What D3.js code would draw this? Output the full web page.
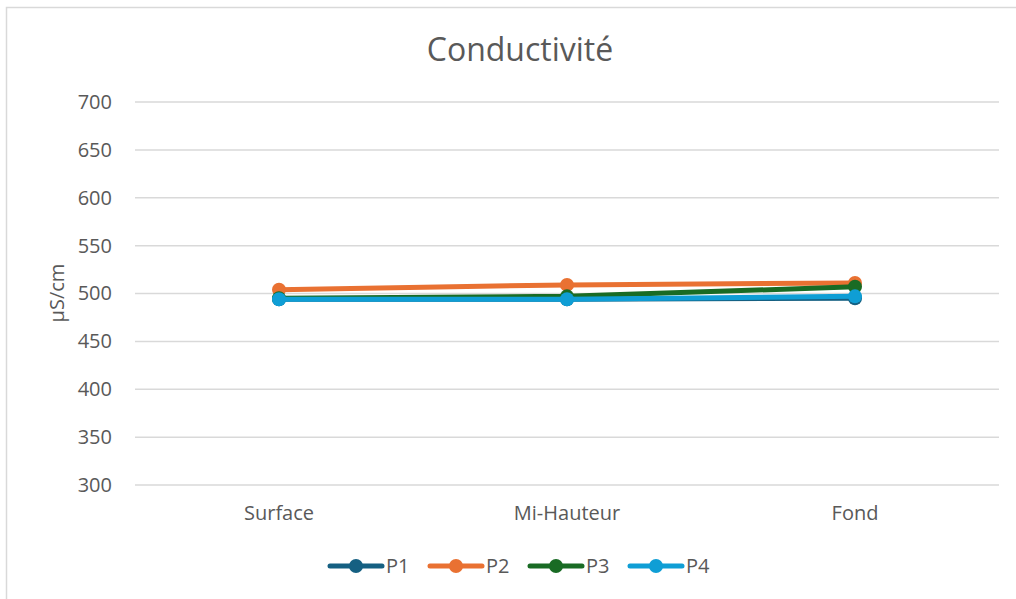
<!DOCTYPE html>
<html><head><meta charset="utf-8">
<script src="https://cdn.jsdelivr.net/npm/d3@7"></script>
<style>body{margin:0;background:#fff}svg{display:block}text{font-family:"Open Sans",sans-serif;fill:#595959}</style>
</head><body><svg id="c" width="1016" height="599"></svg>
<script>
const categories = ["Surface", "Mi-Hauteur", "Fond"];
const seriesNames = ["P1", "P2", "P3", "P4"];
const P1 = [494, 494, 495];
const P2 = [504, 509, 511];
const P3 = [495, 497, 507];
const P4 = [494, 494, 497];
const yTicks = [300, 350, 400, 450, 500, 550, 600, 650, 700];
const colors = ["#156082", "#E97132", "#196B24", "#0F9ED5"];
const seriesValues = [P1, P2, P3, P4];
const FONT = "'Open Sans',sans-serif";

const svg = d3.select("#c");
svg.append("rect").attr("x",6.5).attr("y",7.5).attr("width",1020).attr("height",600)
  .attr("fill","#fff").attr("stroke","#d9d9d9").attr("stroke-width",1.5);

const x = d3.scaleBand().domain(categories).range([135, 999]);
const y = d3.scaleLinear().domain([300, 700]).range([485, 102]);

svg.append("text").attr("x",520).attr("y",61).attr("text-anchor","middle")
  .style("font-size","32px").text("Conductivité");

const grid = svg.append("g");
grid.selectAll("line").data(yTicks).join("line")
  .attr("x1",135).attr("x2",999).attr("y1",d=>y(d)).attr("y2",d=>y(d))
  .attr("stroke","#d9d9d9").attr("stroke-width",1.5);

const yAxis = svg.append("g").attr("transform","translate(135,0)")
  .call(d3.axisLeft(y).tickValues(yTicks).tickSize(0).tickPadding(23));
yAxis.select(".domain").remove();
yAxis.selectAll("text").style("font-size","20px").attr("fill","#595959").style("font-family",FONT);

const xAxis = svg.append("g").attr("transform","translate(0,485)")
  .call(d3.axisBottom(x).tickSize(0).tickPadding(21));
xAxis.select(".domain").remove();
xAxis.selectAll("text").style("font-size","20px").attr("fill","#595959").style("font-family",FONT);

svg.append("text").attr("transform","translate(64,293) rotate(-90)").attr("text-anchor","middle")
  .style("font-size","20px").text("µS/cm");

const line = d3.line().x((d,i)=>x(categories[i])+x.bandwidth()/2).y(d=>y(d));
seriesValues.forEach((vals,k)=>{
  const g = svg.append("g");
  g.append("path").attr("d",line(vals)).attr("fill","none").attr("stroke",colors[k])
    .attr("stroke-width",5).attr("stroke-linecap","round");
  g.selectAll("circle").data(vals).join("circle")
    .attr("cx",(d,i)=>x(categories[i])+x.bandwidth()/2).attr("cy",d=>y(d)).attr("r",7)
    .attr("fill",colors[k]);
});

const leg = svg.append("g");
const legX = [330, 430, 530, 630];
seriesNames.forEach((n,k)=>{
  const g = leg.append("g").attr("transform",`translate(${legX[k]},566)`);
  g.append("line").attr("x1",0).attr("x2",52).attr("stroke",colors[k]).attr("stroke-width",5).attr("stroke-linecap","round");
  g.append("circle").attr("cx",26).attr("r",7).attr("fill",colors[k]);
  g.append("text").attr("x",56).attr("y",7).style("font-size","20px").text(n);
});
</script></body></html>
